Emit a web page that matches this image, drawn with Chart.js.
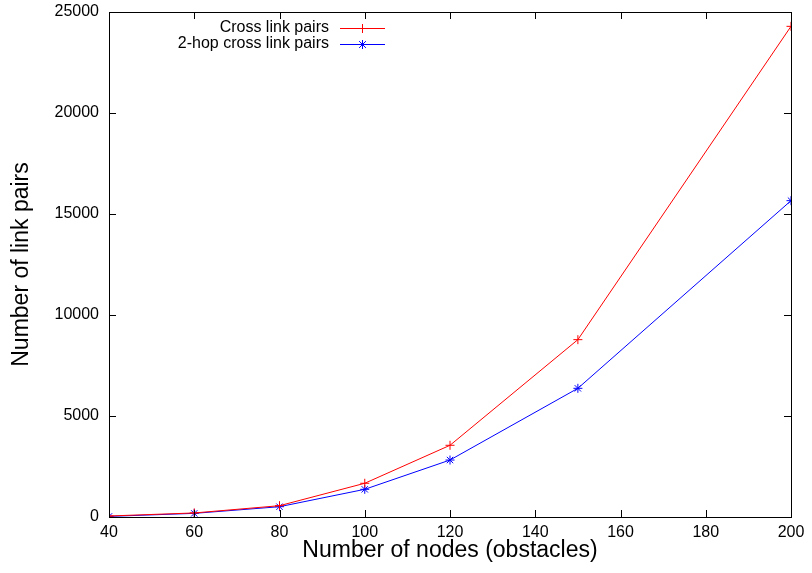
<!DOCTYPE html>
<html><head><meta charset="utf-8">
<script src="https://cdn.jsdelivr.net/npm/chart.js@4/dist/chart.umd.min.js"></script>
<style>html,body{margin:0;padding:0;background:#fff}#wrap{width:812px;height:573px}</style>
</head><body><div id="wrap"><canvas id="c" width="812" height="573"></canvas></div>
<script>
const nodes = [40, 60, 80, 100, 120, 150, 200];
const crossLinkPairs = [50, 200, 560, 1670, 3550, 8780, 24290];
const twoHopCrossLinkPairs = [30, 180, 510, 1370, 2820, 6370, 15660];
const xTicks = [40, 60, 80, 100, 120, 140, 160, 180, 200];
const yTicks = [0, 5000, 10000, 15000, 20000, 25000];
const seriesNames = ['Cross link pairs', '2-hop cross link pairs'];

const FONT = '"Liberation Sans", Arial, sans-serif';

const frame = {
  id: 'frame',
  afterDraw(chart) {
    const {ctx, chartArea: a, scales: {x, y}} = chart;
    ctx.save();
    ctx.strokeStyle = '#000';
    ctx.lineWidth = 1;
    ctx.strokeRect(a.left + 0.5, a.top + 0.5, a.right - a.left, a.bottom - a.top);
    const L = 7;
    ctx.beginPath();
    xTicks.forEach(v => {
      const px = Math.round(x.getPixelForValue(v)) + 0.5;
      ctx.moveTo(px, a.bottom); ctx.lineTo(px, a.bottom - L);
      ctx.moveTo(px, a.top); ctx.lineTo(px, a.top + L);
    });
    yTicks.forEach(v => {
      const py = Math.round(y.getPixelForValue(v)) + 0.5;
      ctx.moveTo(a.left, py); ctx.lineTo(a.left + L, py);
      ctx.moveTo(a.right, py); ctx.lineTo(a.right - L, py);
    });
    ctx.stroke();
    // legend (gnuplot key)
    ctx.font = '16px ' + FONT;
    ctx.textAlign = 'right';
    ctx.textBaseline = 'middle';
    const ys = [28, 44];
    const colors = ['#ff0000', '#0000ff'];
    chart.data.datasets.forEach((ds, i) => {
      ctx.fillStyle = '#000';
      ctx.fillText(ds.label, 329, ys[i]);
      ctx.strokeStyle = colors[i];
      ctx.lineWidth = 1;
      ctx.beginPath();
      ctx.moveTo(340, ys[i] + 0.5); ctx.lineTo(385, ys[i] + 0.5);
      const cx = 362.5, cy = ys[i] + 0.5, r = 4.5;
      ctx.moveTo(cx - r, cy); ctx.lineTo(cx + r, cy);
      ctx.moveTo(cx, cy - r); ctx.lineTo(cx, cy + r);
      if (i === 1) {
        const d = r * 0.75;
        ctx.moveTo(cx - d, cy - d); ctx.lineTo(cx + d, cy + d);
        ctx.moveTo(cx - d, cy + d); ctx.lineTo(cx + d, cy - d);
      }
      ctx.stroke();
    });
    ctx.restore();
  }
};

new Chart(document.getElementById('c'), {
  type: 'line',
  data: {
    datasets: [
      { label: seriesNames[0], data: nodes.map((n, i) => ({x: n, y: crossLinkPairs[i]})),
        borderColor: '#ff0000', backgroundColor: '#ff0000', borderWidth: 1,
        pointStyle: 'cross', pointRadius: 4.5, pointBorderWidth: 1, tension: 0, fill: false },
      { label: seriesNames[1], data: nodes.map((n, i) => ({x: n, y: twoHopCrossLinkPairs[i]})),
        borderColor: '#0000ff', backgroundColor: '#0000ff', borderWidth: 1,
        pointStyle: 'star', pointRadius: 4.5, pointBorderWidth: 1, tension: 0, fill: false }
    ]
  },
  options: {
    responsive: false,
    animation: false,
    layout: { padding: { top: 12, right: 21, left: 0, bottom: 0 } },
    plugins: { legend: { display: false }, tooltip: { enabled: false } },
    scales: {
      x: {
        type: 'linear', min: 40, max: 200,
        afterBuildTicks: s => { s.ticks = xTicks.map(v => ({value: v})); },
        afterFit: s => { s.height = 56; s.paddingLeft = 0; s.paddingRight = 0; },
        grid: { display: false, drawTicks: false },
        border: { display: false },
        ticks: { color: '#000', font: { size: 16, family: FONT }, padding: 6, maxRotation: 0, autoSkip: false,
                 callback: v => String(v) },
        title: { display: true, text: 'Number of nodes (obstacles)', color: '#000',
                 font: { size: 23, family: FONT }, padding: { top: 0, bottom: 9 } }
      },
      y: {
        type: 'linear', min: 0, max: 25000,
        afterBuildTicks: s => { s.ticks = yTicks.map(v => ({value: v})); },
        afterFit: s => { s.width = 109; s.paddingTop = 0; s.paddingBottom = 0; },
        grid: { display: false, drawTicks: false },
        border: { display: false },
        ticks: { color: '#000', font: { size: 16, family: FONT }, padding: 10, autoSkip: false,
                 callback: v => String(v) },
        title: { display: true, text: 'Number of link pairs', color: '#000',
                 font: { size: 23, family: FONT }, padding: { top: 8, bottom: 0 } }
      }
    }
  },
  plugins: [frame]
});
</script></body></html>
